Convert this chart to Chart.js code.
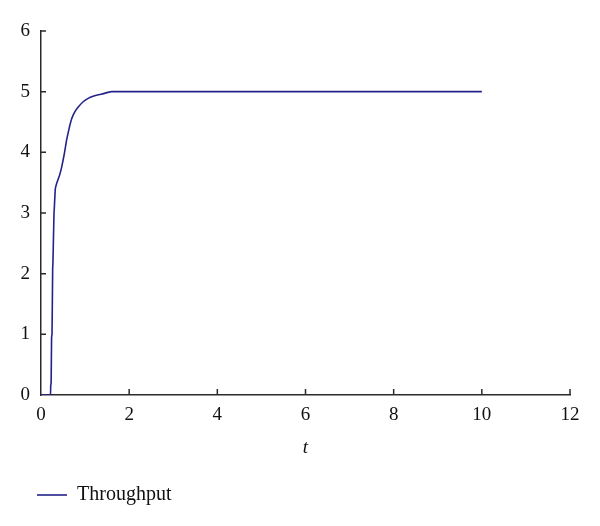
<!DOCTYPE html>
<html>
<head>
<meta charset="utf-8">
<script src="https://cdn.jsdelivr.net/npm/chart.js@4"></script>
<style>
  html, body { margin: 0; padding: 0; background: #fff; }
  #wrap { width: 600px; height: 526px; }
</style>
</head>
<body>
<div id="wrap"><canvas id="chart" width="600" height="526"></canvas></div>
<script>
// time values
const tValues = [0, 0.21, 0.22, 0.23, 0.24, 0.25, 0.265, 0.27, 0.295, 0.30, 0.325, 0.36,
  0.42, 0.47, 0.53, 0.58, 0.64, 0.70, 0.77, 0.85, 0.95, 1.07, 1.2, 1.38, 1.6, 10];
const throughput = [0, 0, 0.15, 0.2, 0.95, 1.0, 2.1, 2.15, 3.0, 3.05, 3.4, 3.5,
  3.62, 3.76, 3.98, 4.2, 4.4, 4.56, 4.67, 4.75, 4.83, 4.89, 4.93, 4.96, 5.0, 5.0];
const xTicks = [0, 2, 4, 6, 8, 10, 12];
const yTicks = [0, 1, 2, 3, 4, 5, 6];
const seriesName = "Throughput";

const FONT = "'Liberation Serif', 'DejaVu Serif', serif";
const LINE_COLOR = "#23238a";
const AXIS_COLOR = "#2a2a2a";

// small tick marks drawn inside the axes, legend nudged right
const innerTicks = {
  id: "innerTicks",
  afterLayout(chart) {
    chart.legend.left = 27;
  },
  afterDraw(chart) {
    const { ctx, chartArea, scales } = chart;
    ctx.save();
    ctx.strokeStyle = AXIS_COLOR;
    ctx.lineWidth = 1.5;
    ctx.beginPath();
    xTicks.slice(1).forEach((v) => {
      const x = scales.x.getPixelForValue(v);
      ctx.moveTo(x, chartArea.bottom);
      ctx.lineTo(x, chartArea.bottom - 6);
    });
    yTicks.slice(1).forEach((v) => {
      const y = scales.y.getPixelForValue(v);
      ctx.moveTo(chartArea.left, y);
      ctx.lineTo(chartArea.left + 5, y);
    });
    ctx.stroke();
    ctx.restore();
  },
};

new Chart(document.getElementById("chart"), {
  type: "line",
  data: {
    datasets: [
      {
        label: seriesName,
        data: tValues.map((t, i) => ({ x: t, y: throughput[i] })),
        borderColor: LINE_COLOR,
        backgroundColor: LINE_COLOR,
        borderWidth: 1.6,
        pointRadius: 0,
        tension: 0.1,
        fill: false,
      },
    ],
  },
  options: {
    responsive: false,
    animation: false,
    layout: { padding: { left: 0, right: 30, top: 31, bottom: 11 } },
    plugins: {
      tooltip: { enabled: false },
      legend: {
        position: "bottom",
        align: "start",
        labels: {
          usePointStyle: true,
          pointStyle: "line",
          pointStyleWidth: 30,
          padding: 10,
          color: "#111",
          font: { family: FONT, size: 20 },
        },
      },
    },
    scales: {
      x: {
        type: "linear",
        min: 0,
        max: 12,
        afterFit(scale) { scale.height = 80; },
        afterBuildTicks(scale) { scale.ticks = xTicks.map((v) => ({ value: v })); },
        grid: { display: false, drawTicks: false },
        border: { display: true, color: AXIS_COLOR, width: 1.5 },
        ticks: { padding: 9, color: "#111", font: { family: FONT, size: 19 } },
        title: {
          display: true,
          text: "t",
          color: "#111",
          padding: { top: 4, bottom: 16 },
          font: { family: FONT, size: 19, style: "italic" },
        },
      },
      y: {
        min: 0,
        max: 6,
        afterFit(scale) { scale.width = 41; },
        afterBuildTicks(scale) { scale.ticks = yTicks.map((v) => ({ value: v })); },
        grid: { display: false, drawTicks: false },
        border: { display: true, color: AXIS_COLOR, width: 1.5 },
        ticks: { padding: 11, color: "#111", font: { family: FONT, size: 19 } },
      },
    },
  },
  plugins: [innerTicks],
});
</script>
</body>
</html>
